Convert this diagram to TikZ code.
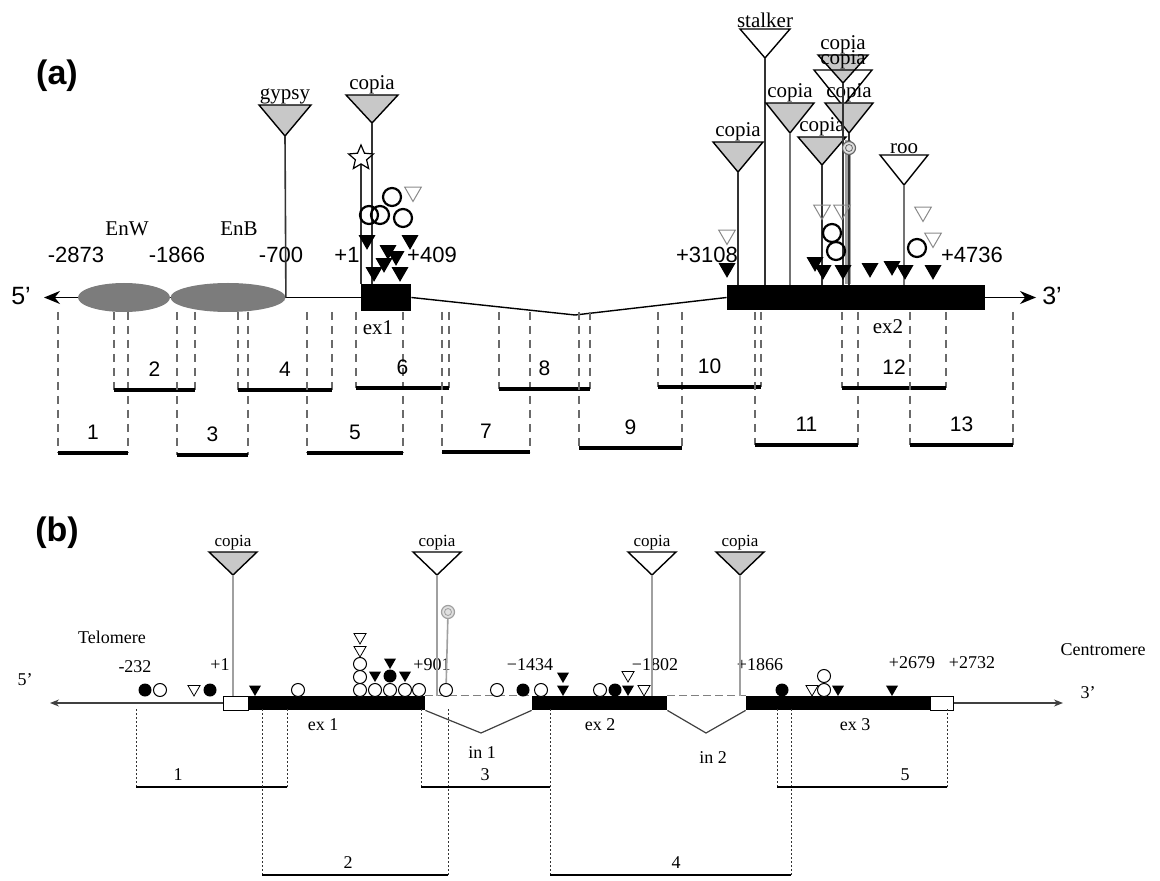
\documentclass[tikz,border=0pt]{standalone}
\usepackage{fontspec}
\setmainfont{Liberation Serif}
\setsansfont{Liberation Sans}
\usepackage{tikz}
\usetikzlibrary{arrows.meta,shapes.geometric}
\definecolor{tegray}{HTML}{C8C8C8}
\definecolor{enhgray}{HTML}{7C7C7C}
\definecolor{stalkgray}{HTML}{A0A0A0}
\definecolor{dashgray}{HTML}{6A6A6A}
\definecolor{markgray}{HTML}{8A8A8A}
\tikzset{
  panel/.style={font=\sffamily\bfseries\fontsize{17}{20}\selectfont, inner sep=0pt},
  numlab/.style={font=\sffamily\fontsize{11}{13}\selectfont, inner sep=0.5pt},
  fraglab/.style={font=\sffamily\fontsize{10.5}{12}\selectfont, inner sep=0.5pt},
  serlab/.style={font=\fontsize{10.5}{12}\selectfont, inner sep=0.5pt},
  blab/.style={font=\fontsize{9}{11}\selectfont, inner sep=0.5pt},
  bte/.style={font=\fontsize{8.5}{10}\selectfont, inner sep=0.5pt},
  exon/.style={fill=black, inner sep=0pt},
  utr/.style={draw=black, fill=white, line width=0.5pt, inner sep=0pt},
  enh/.style={ellipse, fill=enhgray, inner sep=0pt},
  tri/.style={draw=black, line width=0.7pt},
  stalk/.style={draw=black!80, line width=0.8pt},
  bstalk/.style={draw=stalkgray, line width=0.8pt},
  aline/.style={line width=0.7pt},
  bline/.style={draw=black!75, line width=0.6pt},
  bdash/.style={draw=black!50, line width=0.6pt, dash pattern=on 4pt off 2pt},
  fragbar/.style={line width=2pt},
  fragdash/.style={draw=dashgray, line width=0.7pt, dash pattern=on 4pt off 3pt},
  bfragbar/.style={line width=1pt},
  bfragdot/.style={draw=black!80, line width=0.5pt, dash pattern=on 1pt off 1pt},
  ftri/.style={regular polygon, regular polygon sides=3, shape border rotate=180, fill=black, inner sep=0pt, minimum size=9.8pt},
  otri/.style={regular polygon, regular polygon sides=3, shape border rotate=180, draw=markgray, line width=0.5pt, inner sep=0pt, minimum size=9.5pt},
  ocirc/.style={circle, draw=black, line width=1.1pt, inner sep=0pt, minimum size=9pt},
  bftri/.style={regular polygon, regular polygon sides=3, shape border rotate=180, fill=black, inner sep=0pt, minimum size=7pt},
  botri/.style={regular polygon, regular polygon sides=3, shape border rotate=180, draw=black, fill=white, line width=0.4pt, inner sep=0pt, minimum size=7pt},
  bocirc/.style={circle, draw=black, fill=white, line width=0.5pt, inner sep=0pt, minimum size=6.5pt},
  bfcirc/.style={circle, fill=black, inner sep=0pt, minimum size=6.5pt},
  spiral/.style={circle, draw=black!60, fill=black!12, line width=0.6pt, inner sep=0pt, minimum size=6.5pt},
  starmark/.style={star, star points=5, star point ratio=2.2, draw, fill=white, line width=0.6pt, inner sep=0pt, minimum size=13pt}
}
\newcommand{\teins}[8]{%
  \draw[tri, fill=#6] (#2-#4,#3) -- (#2+#4,#3) -- (#2,#3+#5) coordinate (#1) -- cycle;
  \node[#8, above] (#1lab) at (#2,#3) {#7};}

\begin{document}
\begin{tikzpicture}[x=0.5pt, y=-0.5pt]
  \useasboundingbox (0,0) rectangle (1160,881);

  % panel (a)
  \node[panel] (pa) at (57,76) {(a)};
  \node[exon, minimum width=25pt, minimum height=13.5pt] (ex1) at (386,297.5) {};
  \node[exon, minimum width=129pt, minimum height=12.5pt] (ex2) at (856,297.5) {};
  \coordinate (a5) at (44,297.5);
  \coordinate (a3) at (1036,297.5);
  \coordinate (int1) at (575,315);
  \draw[aline, -{Stealth[length=8pt,width=6.5pt]}] (ex1.west) -- (a5);
  \draw[aline] (ex1.east) -- (int1) -- (ex2.west);
  \draw[aline, -{Stealth[length=8pt,width=6.5pt]}] (ex2.east) -- (a3);
  \node[enh, minimum width=46pt, minimum height=14.5pt] (enw) at (124,297.5) {};
  \node[enh, minimum width=57.5pt, minimum height=14.5pt] (enb) at (228,297.5) {};

  \node[numlab, font=\sffamily\fontsize{12.5}{14}\selectfont] (l5a) at (21,296) {5'};
  \node[numlab, font=\sffamily\fontsize{12.5}{14}\selectfont] (l3a) at (1052,296) {3'};
  \node[serlab] (lenw) at (127,229) {EnW};
  \node[serlab] (lenb) at (239,229) {EnB};
  \node[numlab] (p2873) at (76,255) {-2873};
  \node[numlab] (p1866) at (177,255) {-1866};
  \node[numlab] (p700) at (281,255) {-700};
  \node[numlab] (p1) at (347,255) {+1};
  \node[numlab] (p409) at (432,255) {+409};
  \node[numlab] (p3108) at (707,255) {+3108};
  \node[numlab] (p4736) at (972,255) {+4736};
  \node[serlab] (lex1) at (378,328) {ex1};
  \node[serlab] (lex2) at (888,327) {ex2};

  \foreach \l/\r/\y/\n in {58/128/453/1, 114/195/390/2, 177/248/455/3, 238/332/390/4,
      307/403/453/5, 356/449/388/6, 442/530/452/7, 499/590/389/8, 579/682/448/9,
      658/761/387/10, 755/858/445/11, 842/946/388/12, 910/1013/445/13} {
    \draw[fragdash] (\l,312) -- (\l,\y);
    \draw[fragdash] (\r,312) -- (\r,\y);
    \draw[fragbar] (\l,\y) -- (\r,\y);
    \node[fraglab] (fa\n) at ({(\l+\r)/2},\y-21) {\n};
  }

  \teins{tgy}{285}{105}{26}{31}{tegray}{gypsy}{serlab}
  \draw[stalk] (tgy) -- (enb.east);
  \teins{tc1}{372}{95}{26}{28}{tegray}{copia}{serlab}
  \draw[stalk] (tc1) -- (tc1 |- ex1.north);
  \node[starmark] (sta) at (361,158) {};
  \draw[stalk] (sta) -- (sta |- ex1.north);

  \teins{tsk}{765}{29}{25}{29}{white}{stalker}{serlab}
  \draw[stalk, line width=1.3pt] (tsk) -- (tsk |- ex2.north);
  \teins{tc2}{738}{142}{25}{30}{tegray}{copia}{serlab}
  \draw[stalk] (tc2) -- (tc2 |- ex2.north);
  \teins{tc3}{790}{103}{24}{30}{tegray}{copia}{serlab}
  \draw[stalk, draw=black!55] (tc3) -- (tc3 |- ex2.north);
  \teins{tc5}{843}{55}{25}{28}{tegray}{copia}{serlab}
  \teins{tc6}{843}{70}{29}{36}{white, fill opacity=0}{copia}{serlab}
  \teins{tc7}{849}{103}{24}{30}{tegray}{copia}{serlab}
  \teins{tc4}{822}{137}{24}{28}{tegray}{copia}{serlab}
  \draw[stalk] (tc4) -- (tc4 |- ex2.north);
  \draw[draw=stalkgray, line width=2.6pt] (848,140) -- (848,284);
  \draw[stalk] (tc5) -- (tc5 |- ex2.north);
  \draw[stalk] (tc7) -- (tc7 |- ex2.north);
  \node[spiral] (spa) at (849,148) {};
  \draw[black!60, line width=0.4pt] (spa.center) circle (3.5);
  \teins{troo}{904}{155}{24}{30}{white}{roo}{serlab}
  \draw[stalk, draw=black!55] (troo) -- (troo |- ex2.north);

  \foreach \x/\y [count=\i] in {367/240, 410/240, 388/250, 396/256, 384/263, 374/272, 400/272,
      727/268, 815/262, 823/270, 843/270, 870/268, 892/266, 905/270, 933/270}
    \node[ftri] (fta\i) at (\x,\y) {};
  \foreach \x/\y [count=\i] in {369/215, 380/215, 392/197, 403/218, 832/233, 836/251, 917/248}
    \node[ocirc] (oca\i) at (\x,\y) {};
  \foreach \x/\y [count=\i] in {413/192, 727/235, 822/210, 842/210, 923/212, 933/238}
    \node[otri] (ota\i) at (\x,\y) {};

  % panel (b)
  \node[panel] (pb) at (57,533) {(b)};
  \node[utr, minimum width=12.5pt, minimum height=7pt] (u5) at (235.5,703) {};
  \node[exon, minimum width=88.5pt, minimum height=7pt] (bex1) at (336.5,703) {};
  \node[exon, minimum width=67.5pt, minimum height=7pt] (bex2) at (599.5,703) {};
  \node[exon, minimum width=92pt, minimum height=7pt] (bex3) at (838,703) {};
  \node[utr, minimum width=11.5pt, minimum height=7pt] (u3) at (941.5,703) {};
  \coordinate (b5) at (50,703);
  \coordinate (b3) at (1063,703);
  \coordinate (in1v) at (481,733);
  \coordinate (in2v) at (706,733);
  \draw[bline, -{Stealth[length=4.5pt,width=3.5pt]}] (u5.west) -- (b5);
  \draw[bline, -{Stealth[length=4.5pt,width=3.5pt]}] (u3.east) -- (b3);
  \draw[bdash] (bex1.north east) -- (bex2.north west);
  \draw[bdash] (bex2.north east) -- (bex3.north west);
  \draw[bline] (bex1.south east) -- (in1v) -- (bex2.south west);
  \draw[bline] (bex2.south east) -- (in2v) -- (bex3.south west);

  \node[blab] (ltel) at (112,637) {Telomere};
  \node[blab] (lcen) at (1103,650) {Centromere};
  \node[blab] (l5b) at (25,680) {5'};
  \node[blab] (l3b) at (1088,693) {3'};
  \node[blab] (q232) at (135,667) {-232};
  \node[blab] (q1) at (220,665) {+1};
  \node[blab] (q901) at (432,665) {+901};
  \node[blab] (q1434) at (530,665) {−1434};
  \node[blab] (q1802) at (655,665) {−1802};
  \node[blab] (q1866) at (760,665) {+1866};
  \node[blab] (q2679) at (912,663) {+2679};
  \node[blab] (q2732) at (972,663) {+2732};
  \node[blab] (lbe1) at (323,725) {ex 1};
  \node[blab] (lbe2) at (600,725) {ex 2};
  \node[blab] (lbe3) at (855,725) {ex 3};
  \node[blab] (lbi1) at (482,753) {in 1};
  \node[blab] (lbi2) at (713,758) {in 2};

  \foreach \l/\r/\y/\lx/\n in {136/287/787/178/1, 262/448/875/348/2, 421/550/787/485/3,
      550/791/875/676/4, 777/947/787/905/5} {
    \draw[bfragdot] (\l,709) -- (\l,\y);
    \draw[bfragdot] (\r,709) -- (\r,\y);
    \draw[bfragbar] (\l,\y) -- (\r,\y);
    \node[blab] (fb\n) at (\lx,\y-12) {\n};
  }

  \teins{tb1}{233}{552}{24}{23}{tegray}{copia}{bte}
  \draw[bstalk] (tb1) -- (tb1 |- u5.north);
  \teins{tb2}{437}{552}{24}{23}{white}{copia}{bte}
  \draw[bstalk] (tb2) -- (tb2 |- bex1.north);
  \teins{tb3}{652}{552}{24}{23}{white}{copia}{bte}
  \draw[bstalk] (tb3) -- (tb3 |- bex2.north);
  \teins{tb4}{740}{552}{24}{23}{tegray}{copia}{bte}
  \draw[bstalk] (tb4) -- (tb4 |- bex2.north);
  \node[spiral, draw=stalkgray] (spb) at (448,612) {};
  \draw[stalkgray, line width=0.4pt] (spb.center) circle (3.5);
  \node[bocirc] (c901) at (446,690) {};
  \draw[bstalk] (spb) -- (c901);

  \foreach \x/\y [count=\i] in {160/690, 298/690, 360/690, 375/690, 390/690, 405/690, 419/690,
      360/677, 360/664, 497/690, 541/690, 600/690, 824/690, 824/676}
    \node[bocirc] (bo\i) at (\x,\y) {};
  \foreach \x/\y [count=\i] in {145/690, 210/690, 390/676, 523/690, 615/690, 782/690}
    \node[bfcirc] (bf\i) at (\x,\y) {};
  \foreach \x/\y [count=\i] in {255/689, 375/675, 405/675, 390/662, 563/676, 563/689,
      628/689, 838/689, 892/689}
    \node[bftri] (bt\i) at (\x,\y) {};
  \foreach \x/\y [count=\i] in {194/689, 360/650, 360/637, 628/675, 644/689, 812/689}
    \node[botri] (bw\i) at (\x,\y) {};
\end{tikzpicture}
\end{document}
